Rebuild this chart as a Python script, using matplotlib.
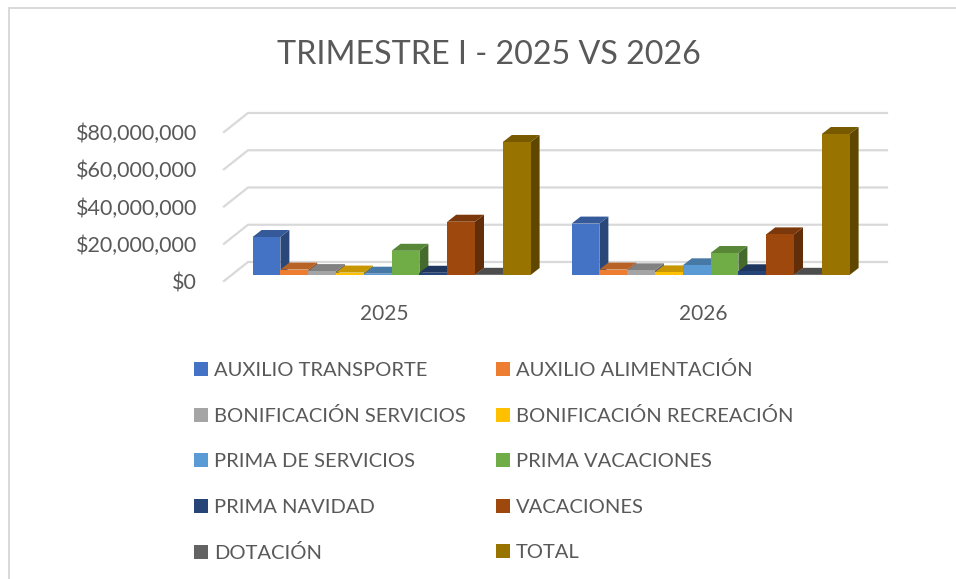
import matplotlib
matplotlib.use("Agg")
import matplotlib.pyplot as plt
from matplotlib.patches import Polygon, Rectangle
from matplotlib.transforms import ScaledTranslation
from matplotlib.ticker import FuncFormatter
from matplotlib.colors import to_rgb

years = ["2025", "2026"]
series = ["AUXILIO TRANSPORTE", "AUXILIO ALIMENTACIÓN", "BONIFICACIÓN SERVICIOS",
          "BONIFICACIÓN RECREACIÓN", "PRIMA DE SERVICIOS", "PRIMA VACACIONES",
          "PRIMA NAVIDAD", "VACACIONES", "DOTACIÓN", "TOTAL"]
values_2025 = [20.4e6, 2.9e6, 2.1e6, 1.3e6, 0.7e6, 13.0e6, 1.2e6, 28.6e6, 0.1e6, 71.4e6]
values_2026 = [27.6e6, 2.9e6, 2.5e6, 1.4e6, 5.2e6, 11.8e6, 2.0e6, 21.8e6, 0.1e6, 75.7e6]
colors = ["#4472C4", "#ED7D31", "#A5A5A5", "#FFC000", "#5B9BD5",
          "#70AD47", "#264478", "#9E480E", "#636363", "#997300"]
y_ticks = [0, 20e6, 40e6, 60e6, 80e6]

W, H = 956, 579
TXT = "#595959"
GRID = "#D9D9D9"
plt.rcParams["font.family"] = ["Lato", "DejaVu Sans"]

fig = plt.figure(figsize=(W / 100, H / 100), dpi=100, facecolor="white")

# chart frame (top and left edges show in the crop)
fig.add_artist(Rectangle((9 / W, -0.1), 1.2, 1.1 - 8.5 / H, transform=fig.transFigure,
                         fill=False, ec=GRID, lw=1.4))

# axes: left = front wall, bottom = value 0 on the front wall
PX_L, PX_R, PX_0, PX_80 = 224, 887, 281, 132
ax = fig.add_axes([PX_L / W, 1 - PX_0 / H, (PX_R - PX_L) / W, (PX_0 - PX_80) / H])
ax.patch.set_visible(False)
X_UNIT = 319.0                       # px per category
CENTER0 = 391.6                      # px of first category centre
ax.set_xlim((PX_L - CENTER0) / X_UNIT, (PX_R - CENTER0) / X_UNIT)
ax.set_ylim(0, 80e6)
Y_UNIT = (PX_0 - PX_80) / 80e6       # px per dollar
for s in ax.spines.values():
    s.set_visible(False)


def dxu(px):
    return px / X_UNIT


def dyu(px):
    return px / Y_UNIT


# walls: diagonal and back lines
WALL_DX, WALL_DY = 24, 19
x_left = ax.get_xlim()[0]
x_right = ax.get_xlim()[1]
for t in y_ticks:
    ax.plot([x_left, x_left + dxu(WALL_DX), x_right],
            [t, t + dyu(WALL_DY), t + dyu(WALL_DY)],
            color=GRID, lw=1.6, clip_on=False, zorder=1, solid_joinstyle="miter")


def shade(c, f):
    r, g, b = to_rgb(c)
    return (r * f, g * f, b * f)


BAR_W = 27.8 / X_UNIT
BASE = dyu(6)                         # bars stand 6 px behind the front wall
DEPTH_X, DEPTH_Y = dxu(9), dyu(7)
z = 3
for cat, vals in enumerate([values_2025, values_2026]):
    for i, (v, c) in enumerate(zip(vals, colors)):
        x0 = cat + (i - 5) * BAR_W
        x1 = x0 + BAR_W
        top = BASE + v
        ax.add_patch(Polygon([(x1, BASE), (x1 + DEPTH_X, BASE + DEPTH_Y),
                              (x1 + DEPTH_X, top + DEPTH_Y), (x1, top)],
                             fc=shade(c, 0.62), ec="none", clip_on=False, zorder=z))
        ax.add_patch(Polygon([(x0, top), (x0 + DEPTH_X, top + DEPTH_Y),
                              (x1 + DEPTH_X, top + DEPTH_Y), (x1, top)],
                             fc=shade(c, 0.78), ec="none", clip_on=False, zorder=z))
        ax.bar(x0, v, width=BAR_W, bottom=BASE, align="edge", color=c,
               linewidth=0, clip_on=False, zorder=z + 0.5)
        z += 1

# axis labels
ax.set_yticks(y_ticks)
ax.yaxis.set_major_formatter(FuncFormatter(lambda v, _: f"${v:,.0f}"))
ax.tick_params(axis="y", length=0, pad=19.4, labelsize=15.5, labelcolor=TXT)
ax.set_xticks([0, 1])
ax.set_xticklabels(years)
ax.tick_params(axis="x", length=0, pad=16.5, labelsize=15, labelcolor=TXT)
shift = ScaledTranslation(-7.5 / 100, 0, fig.dpi_scale_trans)
for lab in ax.get_xticklabels():
    lab.set_transform(lab.get_transform() + shift)

fig.text(489 / W, 1 - 55 / H, "TRIMESTRE I - 2025 VS 2026", ha="center", va="center",
         fontsize=23.2, color=TXT)

# legend: rows read left-to-right, matplotlib fills by column
handles = [Rectangle((0, 0), 1, 1, fc=c, ec="none") for c in colors]
order = [0, 2, 4, 6, 8, 1, 3, 5, 7, 9]
leg = fig.legend([handles[i] for i in order], [series[i] for i in order],
                 ncol=2, loc="upper left", bbox_to_anchor=(194 / W, 1 - 361 / H),
                 bbox_transform=fig.transFigure, frameon=False, fontsize=14.5,
                 labelcolor=TXT, handlelength=0.69, handleheight=0.69, handletextpad=0.3,
                 labelspacing=1.4, columnspacing=1.5, borderpad=0, borderaxespad=0)

fig.savefig("out.png", dpi=100, facecolor="white")
